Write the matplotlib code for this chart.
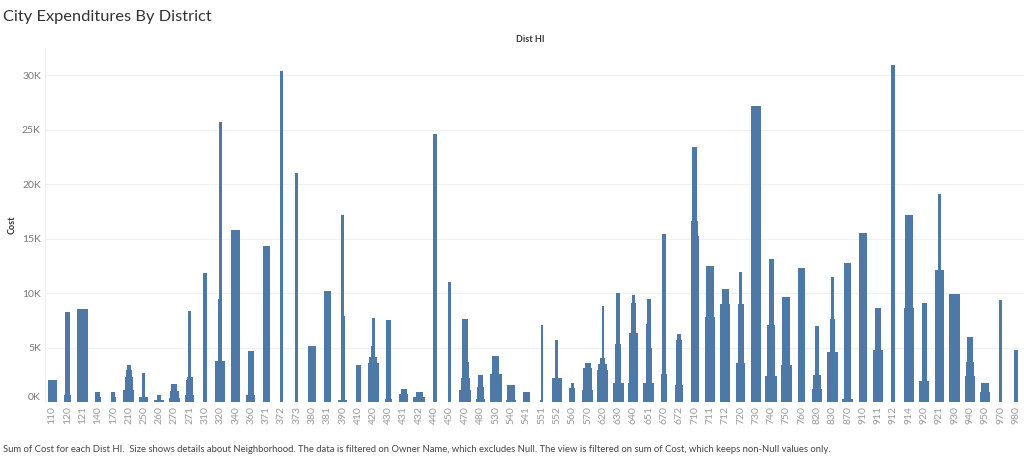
import matplotlib
matplotlib.use("Agg")
import matplotlib.pyplot as plt

# districts on the x axis
districts = ["110", "120", "121", "140", "170", "210", "250", "260", "270", "271",
             "310", "320", "340", "360", "371", "372", "373", "380", "381", "390",
             "410", "420", "430", "431", "432", "440", "450", "470", "480", "530",
             "540", "541", "551", "552", "560", "570", "620", "630", "640", "651",
             "670", "672", "710", "711", "712", "720", "730", "740", "750", "760",
             "820", "830", "870", "910", "911", "912", "914", "920", "921", "930",
             "940", "950", "970", "980"]

# cost (thousands) of each neighborhood stacked in a district, bottom to top
costs = [
    [2.0], [0.6, 7.7], [8.55], [0.5, 0.4], [0.5, 0.45],
    [1.1, 1.2, 0.6, 0.5], [0.5, 2.2], [0.15, 0.45], [0.4, 0.65, 0.6], [0.65, 1.4, 0.25, 6.1],
    [11.85], [3.75, 5.75, 16.2], [15.8], [0.6, 3.2, 0.85], [7.2, 7.1],
    [30.4], [21.0], [5.15], [10.2], [0.15, 7.75, 9.3],
    [3.4], [3.6, 0.5, 1.0, 2.6], [0.3, 5.7, 1.55], [0.75, 0.45], [0.45, 0.5],
    [24.6], [11.0], [1.13, 1.07, 1.5, 3.9], [0.3, 1.1, 1.05], [2.6, 1.6],
    [0.2, 1.33], [0.92], [0.2, 6.9], [2.2, 3.45], [1.3, 0.48],
    [1.07, 2.08, 0.45], [2.9, 0.56, 0.54, 4.8], [1.75, 3.55, 4.7], [1.75, 4.55, 2.8, 0.76], [1.75, 3.25, 2.2, 2.3],
    [2.6, 12.8], [1.6, 4.1, 0.5], [15.2, 1.4, 6.8], [7.8, 4.67], [5.3, 3.7, 1.4],
    [3.6, 5.4, 2.9], [27.2], [2.35, 4.75, 6.0], [3.4, 6.25], [12.3],
    [1.2, 1.25, 4.55], [4.6, 3.05, 3.85], [0.3, 7.75, 4.75], [15.5], [4.8, 3.8],
    [30.9], [8.6, 8.6], [1.9, 7.2], [12.15, 6.95], [9.95],
    [2.35, 1.35, 2.3], [0.9, 0.8], [9.4], [3.5, 1.3],
]

# neighborhood size (the Size encoding) of each stacked segment
sizes = [
    [9], [6.7, 4.7], [10.7], [6.7, 5], [5, 3.5],
    [11, 8, 6, 4], [8.7, 3], [10.7, 4], [11, 9, 6], [9.3, 7, 6, 3],
    [4.7], [9.7, 4, 3], [8.7], [9, 6.7, 5.7], [7.3, 6.7],
    [3], [3], [7.7], [7.7], [9, 4.3, 3],
    [5], [10.7, 8, 4, 2.7], [7.3, 5, 4.3], [9, 5.7], [11.7, 7],
    [4], [3], [11.7, 9, 7, 5.7], [9, 7.3, 5.7], [11.7, 7.3],
    [10.7, 8.3], [6.7], [3.7, 2], [10.3, 3], [6, 2.7],
    [11, 9, 6], [10.7, 8.7, 5, 2.3], [11, 6.7, 4.7], [10, 8.3, 5.3, 3.3], [11.3, 6.3, 5, 4],
    [6.7, 4], [8.3, 6, 4.3], [8, 6.7, 4.7], [9.3, 8.3], [10.3, 9.7, 7.3],
    [9, 6, 3.3], [10], [11.7, 7.7, 5], [10.7, 8], [6.7],
    [10.3, 8.7, 4.3], [10.7, 5, 2.7], [11, 7.7, 6.3], [8], [10, 6.3],
    [4], [10, 7.7], [9.3, 5], [9, 3], [10.7],
    [10.3, 7.7, 6.7], [10, 8.3], [3.3], [4.3, 3.3],
]

yticks = [0, 5, 10, 15, 20, 25, 30]
ytick_labels = ["0K", "5K", "10K", "15K", "20K", "25K", "30K"]

plt.rcParams['font.family'] = ['Lato', 'DejaVu Sans']

fig = plt.figure(figsize=(10.24, 4.58), dpi=100)
ax = fig.add_axes([45 / 1024, 56 / 458, 979 / 1024, 354 / 458])

bar_color = "#4e79a7"
size_scale = 1 / 15.3

for i, (seg_costs, seg_sizes) in enumerate(zip(costs, sizes)):
    bottom = 0
    for c, s in zip(seg_costs, seg_sizes):
        ax.bar(i, c, width=s * size_scale, bottom=bottom, color=bar_color,
               linewidth=0, zorder=3)
        bottom += c

ax.set_xlim(-0.46, 63.53)
ax.set_ylim(0, 32.5)
ax.set_xticks(range(len(districts)))
ax.set_xticklabels(districts, rotation=90, fontsize=7.5, color="#999999")
ax.set_yticks(yticks)
ax.set_yticklabels(ytick_labels, fontsize=7.5, color="#777777")
ax.get_yticklabels()[0].set_va("bottom")
ax.tick_params(length=0, pad=3)
ax.yaxis.grid(True, color="#f0f0f0", linewidth=0.8, zorder=0)
for side in ["top", "right", "bottom"]:
    ax.spines[side].set_visible(False)
ax.spines["left"].set_color("#f0f0f0")

fig.text(0.003, 1 - 17 / 458, "City Expenditures By District", fontsize=11.8,
         color="#333333", va="center", ha="left")
fig.text(530 / 1024, 1 - 40 / 458, "Dist HI", fontsize=6.5, fontweight="bold",
         color="#333333", va="center", ha="center")
fig.text(12 / 1024, 1 - 225 / 458, "Cost", fontsize=6.5, fontweight="bold",
         color="#333333", va="center", ha="center", rotation=90)
fig.text(0.003, 1 - 450 / 458,
         "Sum of Cost for each Dist HI.  Size shows details about Neighborhood. "
         "The data is filtered on Owner Name, which excludes Null. The view is "
         "filtered on sum of Cost, which keeps non-Null values only.",
         fontsize=6.8, color="#444444", va="center", ha="left")

fig.savefig("out.png", dpi=100)
